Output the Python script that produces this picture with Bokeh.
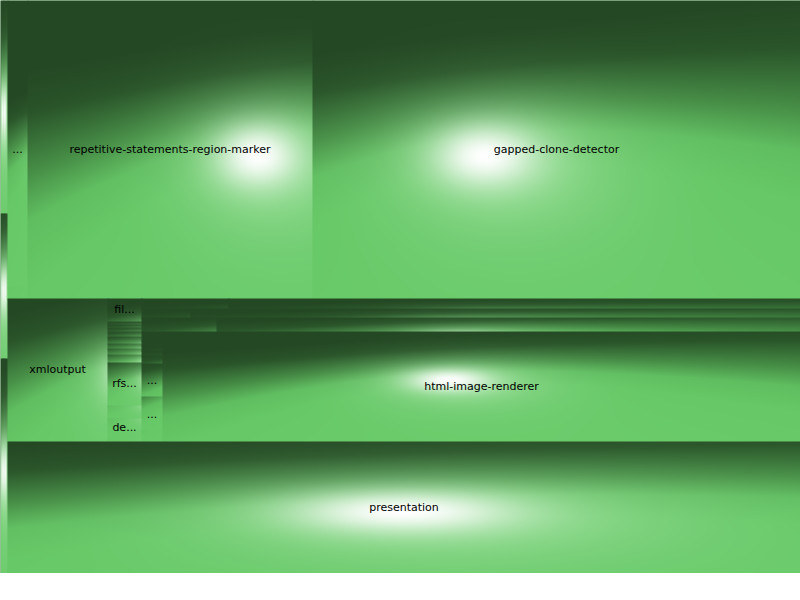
import numpy as np
from bokeh.plotting import figure
from bokeh.models import Range1d, ColumnDataSource
from bokeh.embed import file_html
from bokeh.resources import INLINE
from bokeh.core.properties import value

# ---- tree data (slice-and-dice treemap; children listed in drawing order) ----
ids = ["root",
       "S", "S1", "S1a", "S1b", "S2", "S2a", "S2b", "S2c", "S3", "S3a", "S3b", "S3c",
       "X", "top", "col1", "col1a", "col1b", "rep", "gapped",
       "mid", "xml", "col2", "fil", "t1", "t2", "t3", "t4", "t5", "t6", "t7", "t8", "rfs", "t9", "de", "t10", "t11",
       "rest", "r1", "r1a", "r1b", "r2", "r2a", "r2b", "r3", "r3a", "r3b",
       "block", "col3", "c3a", "c3b", "c3c", "c3d", "c3e", "c3f", "c3g", "c3h", "html",
       "presentation"]
parents = ["",
           "root", "S", "S1", "S1", "S", "S2", "S2", "S2", "S", "S3", "S3", "S3",
           "root", "X", "top", "col1", "col1", "top", "top",
           "X", "mid", "mid", "col2", "col2", "col2", "col2", "col2", "col2", "col2", "col2", "col2", "col2", "col2", "col2", "col2", "col2",
           "mid", "rest", "r1", "r1", "rest", "r2", "r2", "rest", "r3", "r3",
           "rest", "block", "col3", "col3", "col3", "col3", "col3", "col3", "col3", "col3", "block",
           "X"]
values = [0,
          0, 0, 575, 916, 0, 290, 290, 435, 0, 430, 430, 645,
          0, 0, 0, 5740, 220, 84930, 145424,
          0, 14300, 0, 782, 102, 102, 153, 170, 221, 170, 221, 255, 1462, 425, 646, 102, 51,
          0, 0, 870, 5720, 0, 417, 5185, 0, 1088, 8468,
          0, 0, 189, 105, 105, 105, 168, 693, 714, 231, 70180,
          104676]
labels = ["",
          "", "", "", "", "", "", "", "", "", "", "", "",
          "", "", "...", "", "", "repetitive-statements-region-marker", "gapped-clone-detector",
          "", "xmloutput", "", "fil...", "", "", "", "", "", "", "", "", "rfs...", "", "de...", "", "",
          "", "", "", "", "", "", "", "", "", "",
          "", "", "", "", "", "", "", "...", "...", "", "html-image-renderer",
          "presentation"]

W, H = 800, 573
# cushion (van Wijk) parameters
H0, F, XS = 0.25, 0.9, 0.5
EX, EY, REF = 0.3, 0.5, 300.0      # ridge steepness grows mildly with size
LD = np.array([0.2, 1.0, 0.7]); LD = LD / np.linalg.norm(LD)       # diffuse light (from below)
HS = np.array([0.0, 0.04, 1.0]); HS = HS / np.linalg.norm(HS)      # white highlight direction
HG = np.array([0.06, 0.10, 1.0]); HG = HG / np.linalg.norm(HG)     # pale glow direction
D_STOPS = [0.0, 0.15, 0.35, 0.5, 0.65, 1.0]
D_COLS = [(36, 72, 36), (42, 84, 42), (70, 140, 70), (96, 190, 96), (102, 200, 102), (108, 204, 108)]
PALE = (172, 230, 172)
P1, K1, P2 = 14.0, 0.65, 60.0

children = {i: [] for i in ids}
for i, par in zip(ids, parents):
    if par:
        children[par].append(i)
val = dict(zip(ids, values))


def total(n):
    if children[n]:
        val[n] = sum(total(c) for c in children[n])
    return val[n]


total("root")
rects, leaves = {}, []


def lay(n, x0, y0, x1, y1, depth, s, h):
    rects[n] = (x0, y0, x1, y1)
    if not children[n]:
        leaves.append((n, x0, y0, x1, y1, s))
        return
    pos = x0 if depth % 2 == 0 else y0
    for c in children[n]:
        if depth % 2 == 0:
            w = (x1 - x0) * val[c] / val[n]
            a, b = pos, pos + w
            hh = h * XS * (w / REF) ** EX
            ns = (s[0] + 4 * hh * (a + b) / (b - a), s[1] - 4 * hh / (b - a), s[2], s[3])
            lay(c, a, y0, b, y1, depth + 1, ns, h * F)
        else:
            w = (y1 - y0) * val[c] / val[n]
            a, b = pos, pos + w
            hh = h * (w / REF) ** EY
            ns = (s[0], s[1], s[2] + 4 * hh * (a + b) / (b - a), s[3] - 4 * hh / (b - a))
            lay(c, x0, a, x1, b, depth + 1, ns, h * F)
        pos += w


lay("root", 0.0, 0.0, float(W), float(H), 0, (0.0, 0.0, 0.0, 0.0), H0)

imgs, ix, iy, idw, idh = [], [], [], [], []
for n, x0, y0, x1, y1, s in leaves:
    a0, a1, b0, b1 = int(round(x0)), int(round(x1)), int(round(y0)), int(round(y1))
    if a1 <= a0 or b1 <= b0:
        continue
    a1, b1 = min(a1 + 1, W), min(b1 + 1, H)   # 1px overlap hides seams
    xs = np.arange(a0, a1) + 0.5
    ys = np.arange(b0, b1) + 0.5
    XX, YY = np.meshgrid(xs, ys)
    nx = -(2 * s[1] * XX + s[0])
    ny = -(2 * s[3] * YY + s[2])
    nrm = np.sqrt(nx ** 2 + ny ** 2 + 1)
    d = np.clip((nx * LD[0] + ny * LD[1] + LD[2]) / nrm, 0, 1)
    c = np.clip((nx * HS[0] + ny * HS[1] + HS[2]) / nrm, 0, 1)
    g = np.clip((nx * HG[0] + ny * HG[1] + HG[2]) / nrm, 0, 1)
    s1 = K1 * g ** P1
    s2 = c ** P2
    img = np.empty(d.shape, dtype=np.uint32)
    v = img.view(dtype=np.uint8).reshape(d.shape + (4,))
    for k in range(3):
        base = np.interp(d, D_STOPS, [col[k] for col in D_COLS])
        base = base + (PALE[k] - base) * s1
        base = base + (255 - base) * s2
        v[..., k] = np.clip(base, 0, 255).astype(np.uint8)
    v[..., 3] = 255
    imgs.append(np.flipud(img))
    ix.append(a0)
    iy.append(H - b1)
    idw.append(a1 - a0)
    idh.append(b1 - b0)

p = figure(width=W, height=H, x_range=Range1d(0, W), y_range=Range1d(0, H),
           toolbar_location=None, output_backend="svg", min_border=0)
p.axis.visible = False
p.grid.visible = False
p.outline_line_color = None
p.background_fill_color = "#3a7a3a"
p.border_fill_color = "white"
p.image_rgba(source=ColumnDataSource(dict(image=imgs, x=ix, y=iy, dw=idw, dh=idh)),
             image="image", x="x", y="y", dw="dw", dh="dh")

tx, ty, tt = [], [], []
for n, lab in zip(ids, labels):
    if lab:
        x0, y0, x1, y1 = rects[n]
        tx.append((x0 + x1) / 2)
        ty.append(H - (y0 + y1) / 2)
        tt.append(lab)
p.text(x=tx, y=ty, text=tt, text_align="center", text_baseline="middle",
       text_font=value("DejaVu Sans"), text_font_size="11px", text_color="black")

open("out.html", "w").write(file_html(p, INLINE))
